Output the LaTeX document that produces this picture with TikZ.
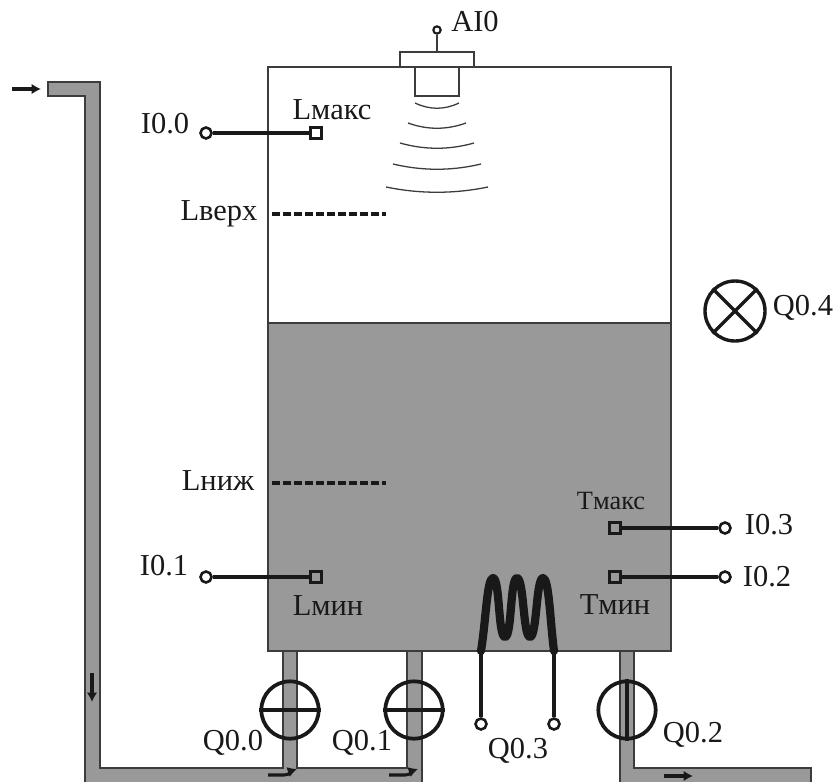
\documentclass[tikz,border=0pt]{standalone}
\usepackage{fontspec}
\setmainfont{Liberation Serif}
\usetikzlibrary{arrows.meta}
\definecolor{liquid}{gray}{0.6}
\definecolor{ink}{gray}{0.1}

\begin{document}
\begin{tikzpicture}[x=0.03cm, y=-0.03cm, every node/.style={text=ink, font=\fontsize{26}{28}\selectfont}]
  \tikzstyle{pipe} = [draw=ink!85, fill=liquid, line width=1pt]
  \tikzstyle{terminal} = [circle, draw=ink, line width=2.2pt, inner sep=0pt, minimum size=0.33cm]
  \tikzstyle{sensor} = [rectangle, draw=ink, line width=2.4pt, inner sep=0pt, minimum size=0.32cm]
  \tikzstyle{wire} = [draw=ink, line width=2.7pt]
  \tikzstyle{valve} = [circle, draw=ink, line width=3.2pt, inner sep=0pt, minimum size=1.72cm]
  \tikzstyle{level} = [draw=ink, line width=2.8pt, dash pattern=on 6.8pt off 2.6pt]
  \tikzstyle{flow} = [draw=ink, line width=2.6pt, -{Latex[length=8pt,width=9pt]}]
  \tikzstyle{wave} = [draw=ink!85, line width=1.1pt]

  \useasboundingbox (0,0) rectangle (836,782);

  % Pipes
  \draw[pipe] (48,82) -- (100,82) -- (100,768) -- (283,768) -- (283,651) -- (297,651) -- (297,768)
    -- (407,768) -- (407,651) -- (422,651) -- (422,790) -- (85,790) -- (85,96) -- (48,96) -- cycle;
  \draw[pipe] (620,651) -- (634,651) -- (634,768) -- (811,768) -- (811,790) -- (620,790) -- cycle;

  % Tank
  \fill[white] (268,67) rectangle (671,323);
  \draw[pipe] (268,323) rectangle (671,651);
  \draw[draw=ink!85, line width=1pt] (268,67) rectangle (671,651);

  % Ultrasonic sensor
  \node[rectangle, draw=ink!85, line width=1pt, inner sep=0pt, minimum width=2.22cm, minimum height=0.45cm, fill=white] (flange) at (437,59.5) {};
  \node[rectangle, draw=ink!85, line width=1pt, inner sep=0pt, minimum width=1.32cm, minimum height=0.87cm] (probe) at (437,81.5) {};
  \node[circle, draw=ink, line width=1.8pt, inner sep=0pt, minimum size=0.22cm] (ai) at (437,30) {};
  \draw[draw=ink!85, line width=1.3pt] (ai) -- (flange);
  \node (ailabel) at (475,22) {AI0};
  \foreach \w/\y [count=\i] in {22/103, 29/123, 37/143, 44/164, 51/187}
    \draw[wave] (437-\w,\y) .. controls (437-\w/3,\y+7) and (437+\w/3,\y+7) .. (437+\w,\y);

  % Levels
  \node (lupper) at (219,214) {Lверх};
  \node (llower) at (218,481) {Lниж};
  \coordinate (upstart) at (272,214);
  \coordinate (upend) at (386,214);
  \coordinate (lowstart) at (272,483);
  \coordinate (lowend) at (386,483);
  \draw[level] (upstart) -- (upend);
  \draw[level] (lowstart) -- (lowend);

  % Switches
  \foreach \name/\tx/\ty/\sx/\y in {i00/206/133/316/133, i01/206/577/316/577, i03/725/528/615/528, i02/725/577/615/577} {
    \node[terminal] (\name t) at (\tx,\ty) {};
    \node[sensor] (\name s) at (\sx,\y) {};
    \draw[wire] (\name t) -- (\name s);
  }
  \node (i00label) at (165,124) {I0.0};
  \node (i01label) at (164,566) {I0.1};
  \node (i03label) at (769,525) {I0.3};
  \node (i02label) at (767,577) {I0.2};
  \node (lmax) at (332,110) {Lмакс};
  \node (lmin) at (328,606) {Lмин};
  \node[font=\fontsize{22.5}{26}\selectfont] (tmax) at (611,501) {Tмакс};
  \node (tmin) at (615,605) {Tмин};

  % Valves
  \foreach \name/\x in {q00/290, q01/414} {
    \node[valve] (\name) at (\x,710) {};
    \draw[draw=ink, line width=3pt] (\name.west) -- (\name.east);
  }
  \node[valve] (q02) at (627,710) {};
  \draw[draw=ink, line width=3pt] (q02.north) -- (q02.south);
  \node (q00label) at (233,743) {Q0.0};
  \node (q01label) at (362,743) {Q0.1};
  \node (q02label) at (693,735) {Q0.2};

  % Heater
  \coordinate (heatl) at (481,651);
  \coordinate (heatr) at (554,651);
  \draw[draw=ink, line width=7pt, line cap=round, line join=round] (heatl)
    .. controls (486,620) and (487,578) .. (493,578)
    .. controls (500,578) and (498,637) .. (505,637)
    .. controls (512,637) and (510,578) .. (517,578)
    .. controls (524,578) and (523,637) .. (530,637)
    .. controls (537,637) and (536,578) .. (543,578)
    .. controls (549,578) and (550,620) .. (heatr);
  \node[terminal] (q03l) at (481,724) {};
  \node[terminal] (q03r) at (554,724) {};
  \draw[wire] (heatl) -- (q03l);
  \draw[wire] (heatr) -- (q03r);
  \node (q03label) at (518,751) {Q0.3};

  % Lamp
  \node[circle, draw=ink, line width=2.9pt, inner sep=0pt, minimum size=1.8cm] (lamp) at (735,311) {};
  \draw[draw=ink, line width=2.9pt] (lamp.north west) -- (lamp.south east);
  \draw[draw=ink, line width=2.9pt] (lamp.north east) -- (lamp.south west);
  \node (q04label) at (803,308) {Q0.4};

  % Flow arrows
  \coordinate (ina) at (12,89);
  \coordinate (inb) at (41,89);
  \coordinate (downa) at (92,673);
  \coordinate (downb) at (92,702);
  \coordinate (outa) at (664,776);
  \coordinate (outb) at (693,776);
  \draw[flow] (ina) -- (inb);
  \draw[flow] (downa) -- (downb);
  \draw[flow] (outa) -- (outb);
  \foreach \x in {268,389} {
    \coordinate (benda\x) at (\x,775);
    \coordinate (bendb\x) at (\x+29,769);
    \draw[flow] (benda\x) -- (\x+16,775) .. controls (\x+22,775) and (\x+23,771) .. (bendb\x);
  }
\end{tikzpicture}
\end{document}
